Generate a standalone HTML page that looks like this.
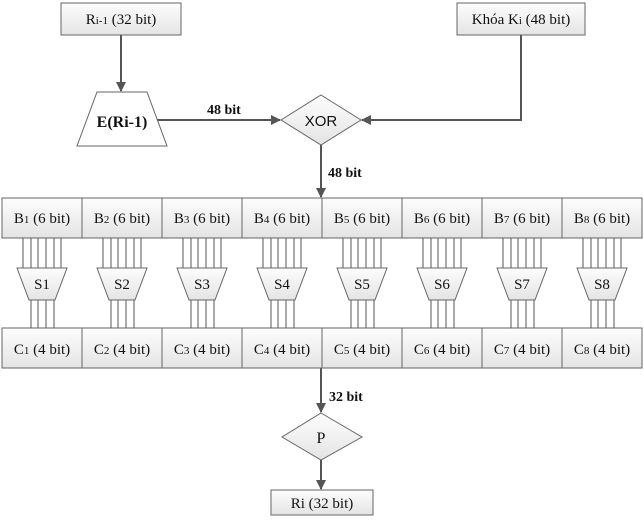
<!DOCTYPE html>
<html><head><meta charset="utf-8"><style>
html,body{margin:0;padding:0;background:#fff;}
svg text{font-family:"Liberation Serif",serif;fill:#111;}
svg text.sans{font-family:"Liberation Sans",sans-serif;}
</style></head><body>
<svg width="644" height="525" viewBox="0 0 644 525" xmlns="http://www.w3.org/2000/svg">
<defs>
<linearGradient id="g" x1="0" y1="0" x2="0" y2="1"><stop offset="0" stop-color="#fdfdfd"/><stop offset="1" stop-color="#e4e4e4"/></linearGradient>
<marker id="a" markerWidth="10" markerHeight="10" refX="9" refY="5" orient="auto" markerUnits="userSpaceOnUse"><path d="M0,0 L10,5 L0,10 z" fill="#555"/></marker>
<g id="sb">
<g stroke="#555" stroke-width="1">
<line x1="21" y1="238" x2="21" y2="268"/><line x1="29" y1="238" x2="29" y2="268"/><line x1="36" y1="238" x2="36" y2="268"/><line x1="44" y1="238" x2="44" y2="268"/><line x1="52" y1="238" x2="52" y2="268"/><line x1="59" y1="238" x2="59" y2="268"/>
<line x1="29" y1="300" x2="29" y2="328"/><line x1="36" y1="300" x2="36" y2="328"/><line x1="44" y1="300" x2="44" y2="328"/><line x1="52" y1="300" x2="52" y2="328"/>
</g>
<path d="M15,268 L65,268 L53,300 L27,300 z" fill="url(#g)" stroke="#666"/>
</g>
</defs>
<g stroke="#666" fill="url(#g)">
<rect x="61" y="3" width="120" height="32"/>
<rect x="457" y="3" width="128" height="32"/>
<rect x="271" y="490" width="102" height="25"/>
</g>
<g stroke="#555" stroke-width="2" fill="none">
<line x1="121" y1="35" x2="121" y2="91" marker-end="url(#a)"/>
<line x1="157" y1="120" x2="280" y2="120" marker-end="url(#a)"/>
<polyline points="521,35 521,120 362,120" marker-end="url(#a)"/>
<line x1="321" y1="145" x2="321" y2="197" marker-end="url(#a)"/>
<line x1="321" y1="368" x2="321" y2="412" marker-end="url(#a)"/>
<line x1="321" y1="460" x2="321" y2="489" marker-end="url(#a)"/>
</g>
<path d="M97,92 L147,92 L167,146 L77,146 z" fill="#fff" stroke="#666"/>
<path d="M321,95 L361,120 L321,145 L281,120 z" fill="url(#g)" stroke="#666"/>
<path d="M321,413 L362,437 L321,460 L282,437 z" fill="url(#g)" stroke="#666"/>
<g stroke="#666" fill="url(#g)">
<rect x="2" y="198" width="80" height="40"/><rect x="82" y="198" width="80" height="40"/><rect x="162" y="198" width="80" height="40"/><rect x="242" y="198" width="80" height="40"/><rect x="322" y="198" width="80" height="40"/><rect x="402" y="198" width="80" height="40"/><rect x="482" y="198" width="80" height="40"/><rect x="562" y="198" width="80" height="40"/>
<rect x="2" y="328" width="80" height="40"/><rect x="82" y="328" width="80" height="40"/><rect x="162" y="328" width="80" height="40"/><rect x="242" y="328" width="80" height="40"/><rect x="322" y="328" width="80" height="40"/><rect x="402" y="328" width="80" height="40"/><rect x="482" y="328" width="80" height="40"/><rect x="562" y="328" width="80" height="40"/>
</g>
<use href="#sb" x="2"/><use href="#sb" x="82"/><use href="#sb" x="162"/><use href="#sb" x="242"/><use href="#sb" x="322"/><use href="#sb" x="402"/><use href="#sb" x="482"/><use href="#sb" x="562"/>
<g font-size="15" text-anchor="middle">
<text x="121" y="24">R<tspan font-size="11">i-1</tspan> (32 bit)</text>
<text x="521" y="24">Khóa K<tspan font-size="11">i</tspan> (48 bit)</text>
<text x="322" y="508">Ri (32 bit)</text>
<text x="321" y="443" font-size="16">P</text>
<text x="122" y="127" font-weight="bold" font-size="16">E(Ri-1)</text>
<text x="321" y="126" class="sans" font-size="15">XOR</text>
</g>
<g font-size="14" font-weight="bold">
<text x="207" y="114">48 bit</text>
<text x="328" y="177">48 bit</text>
<text x="329" y="401">32 bit</text>
</g>
<g font-size="15" text-anchor="middle">
<text x="42" y="223">B<tspan font-size="11">1</tspan> (6 bit)</text><text x="122" y="223">B<tspan font-size="11">2</tspan> (6 bit)</text><text x="202" y="223">B<tspan font-size="11">3</tspan> (6 bit)</text><text x="282" y="223">B<tspan font-size="11">4</tspan> (6 bit)</text><text x="362" y="223">B<tspan font-size="11">5</tspan> (6 bit)</text><text x="442" y="223">B<tspan font-size="11">6</tspan> (6 bit)</text><text x="522" y="223">B<tspan font-size="11">7</tspan> (6 bit)</text><text x="602" y="223">B<tspan font-size="11">8</tspan> (6 bit)</text>
<text x="42" y="354">C<tspan font-size="11">1</tspan> (4 bit)</text><text x="122" y="354">C<tspan font-size="11">2</tspan> (4 bit)</text><text x="202" y="354">C<tspan font-size="11">3</tspan> (4 bit)</text><text x="282" y="354">C<tspan font-size="11">4</tspan> (4 bit)</text><text x="362" y="354">C<tspan font-size="11">5</tspan> (4 bit)</text><text x="442" y="354">C<tspan font-size="11">6</tspan> (4 bit)</text><text x="522" y="354">C<tspan font-size="11">7</tspan> (4 bit)</text><text x="602" y="354">C<tspan font-size="11">8</tspan> (4 bit)</text>
<text x="42" y="289">S1</text><text x="122" y="289">S2</text><text x="202" y="289">S3</text><text x="282" y="289">S4</text><text x="362" y="289">S5</text><text x="442" y="289">S6</text><text x="522" y="289">S7</text><text x="602" y="289">S8</text>
</g>
</svg>
</body></html>
